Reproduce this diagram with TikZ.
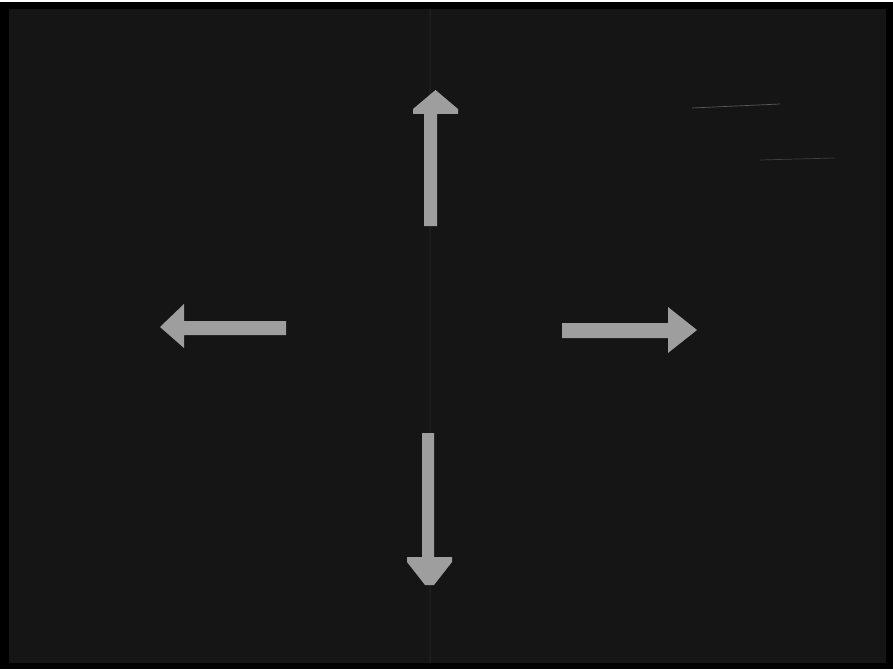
\documentclass[tikz,border=0pt]{standalone}
\begin{document}
\begin{tikzpicture}[x=1pt,y=-1pt,
  arrowshape/.style={fill=arrowgray,draw=none},
  streak/.style={draw=streakgray,line width=0.7pt}]
\definecolor{screen}{HTML}{151515}
\definecolor{arrowgray}{HTML}{9E9E9E}
\definecolor{faint}{HTML}{1C1C1C}
\definecolor{streakgray}{HTML}{5A5A5A}
\useasboundingbox (0,0) rectangle (893,671);
\fill[white] (0,0) rectangle (893,671);
\fill[black] (0,2) rectangle (893,669);
\fill[screen] (9,9) rectangle (886,663);
% faint vertical scan line
\draw[faint,line width=1.5pt] (430,9) -- (430,663);
% faint streaks top right
\draw[streak] (692,108) -- (780,104);
\draw[streak,opacity=0.6] (760,160) -- (835,158);
% up arrow
\fill[arrowshape] (424,226) -- (424,114) -- (413,114) -- (413,109) -- (435.5,90)
  -- (458,109) -- (458,114) -- (437,114) -- (437,226) -- cycle;
% left arrow
\fill[arrowshape] (286,321) -- (184,321) -- (184,304) -- (160,327) -- (184,348)
  -- (184,335) -- (286,335) -- cycle;
% right arrow
\fill[arrowshape] (562,323) -- (668,323) -- (668,307) -- (697,330) -- (668,353)
  -- (668,338) -- (562,338) -- cycle;
% down arrow
\fill[arrowshape] (422,433) -- (434,433) -- (434,557) -- (452,557) -- (452,562)
  -- (434,585) -- (425,585) -- (407,562) -- (407,557) -- (422,557) -- cycle;
\end{tikzpicture}
\end{document}
